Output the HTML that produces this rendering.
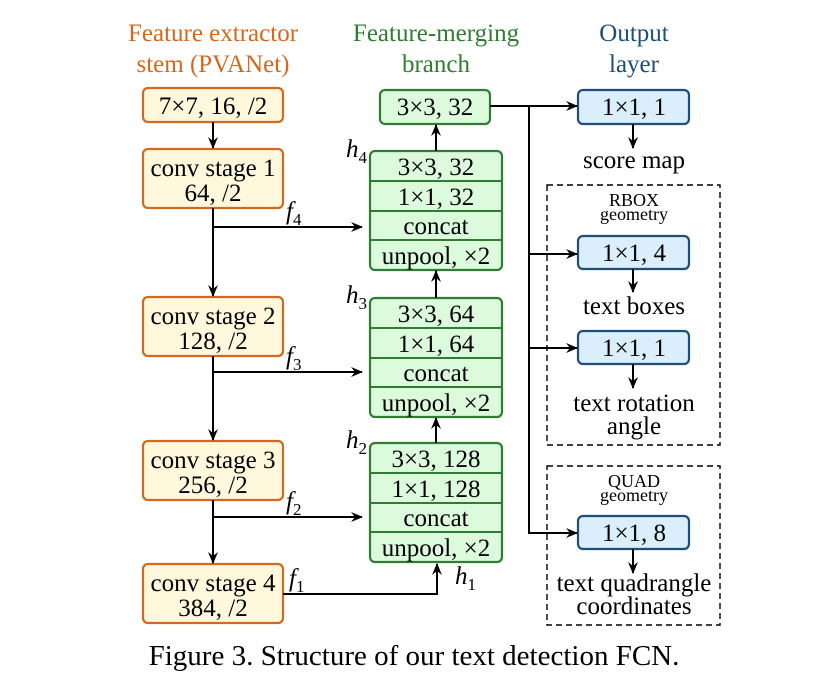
<!DOCTYPE html>
<html><head><meta charset="utf-8"><style>
html,body{margin:0;padding:0;background:#fff;}
svg{display:block;}
text{font-family:"Liberation Serif",serif;}
</style></head><body>
<svg width="832" height="680" viewBox="0 0 832 680" xmlns="http://www.w3.org/2000/svg">
<defs>
<marker id="a" viewBox="0 0 12 10" refX="11" refY="5" markerWidth="12" markerHeight="10" markerUnits="userSpaceOnUse" orient="auto">
<path d="M0,0 L12,5 L0,10 L4,5 Z" fill="#000"/></marker>
</defs>
<g font-size="25" text-anchor="middle">
<text x="213" y="41" fill="#d2691e">Feature extractor</text>
<text x="213" y="72" fill="#d2691e">stem (PVANet)</text>
<text x="436" y="41" fill="#2e7d32">Feature-merging</text>
<text x="436" y="72" fill="#2e7d32">branch</text>
<text x="634" y="41" fill="#1f4e79">Output</text>
<text x="634" y="72" fill="#1f4e79">layer</text>
</g>
<g fill="#fff8dc" stroke="#d2691e" stroke-width="2.2">
<rect x="143" y="88" width="140" height="34" rx="5"/>
<rect x="143" y="149" width="140" height="59" rx="5"/>
<rect x="143" y="297" width="140" height="59" rx="5"/>
<rect x="143" y="441" width="140" height="59" rx="5"/>
<rect x="143" y="564" width="140" height="59" rx="5"/>
</g>
<g font-size="25" text-anchor="middle">
<text x="213" y="114">7×7, 16, /2</text>
<text x="213" y="176">conv stage 1</text><text x="213" y="201">64, /2</text>
<text x="213" y="324">conv stage 2</text><text x="213" y="349">128, /2</text>
<text x="213" y="468">conv stage 3</text><text x="213" y="493">256, /2</text>
<text x="213" y="591">conv stage 4</text><text x="213" y="616">384, /2</text>
</g>
<g fill="#dcfadc" stroke="#2e7d32" stroke-width="2.2">
<rect x="380" y="90" width="110" height="34" rx="5"/>
<rect x="370" y="151" width="132" height="119" rx="5"/>
<rect x="370" y="298" width="132" height="119" rx="5"/>
<rect x="370" y="443" width="132" height="119" rx="5"/>
</g>
<g stroke="#2e7d32" stroke-width="2">
<line x1="370" y1="181" x2="502" y2="181"/><line x1="370" y1="211" x2="502" y2="211"/><line x1="370" y1="240" x2="502" y2="240"/>
<line x1="370" y1="328" x2="502" y2="328"/><line x1="370" y1="358" x2="502" y2="358"/><line x1="370" y1="387" x2="502" y2="387"/>
<line x1="370" y1="473" x2="502" y2="473"/><line x1="370" y1="503" x2="502" y2="503"/><line x1="370" y1="532" x2="502" y2="532"/>
</g>
<g font-size="25" text-anchor="middle">
<text x="435" y="115">3×3, 32</text>
<text x="436" y="175">3×3, 32</text><text x="436" y="205">1×1, 32</text><text x="436" y="234">concat</text><text x="436" y="264">unpool, ×2</text>
<text x="436" y="322">3×3, 64</text><text x="436" y="352">1×1, 64</text><text x="436" y="381">concat</text><text x="436" y="411">unpool, ×2</text>
<text x="436" y="467">3×3, 128</text><text x="436" y="497">1×1, 128</text><text x="436" y="526">concat</text><text x="436" y="556">unpool, ×2</text>
</g>
<g fill="none" stroke="#000" stroke-width="1.4" stroke-dasharray="6,4">
<rect x="547" y="185" width="173" height="260"/>
<rect x="547" y="466" width="173" height="159"/>
</g>
<g fill="#dbeefc" stroke="#1f4e79" stroke-width="2.2">
<rect x="578" y="90" width="111" height="34" rx="5"/>
<rect x="578" y="236" width="111" height="33" rx="5"/>
<rect x="578" y="331" width="111" height="33" rx="5"/>
<rect x="578" y="516" width="111" height="33" rx="5"/>
</g>
<g font-size="25" text-anchor="middle">
<text x="634" y="115">1×1, 1</text>
<text x="634" y="261">1×1, 4</text>
<text x="634" y="356">1×1, 1</text>
<text x="634" y="541">1×1, 8</text>
<text x="634" y="168">score map</text>
<text x="634" y="314">text boxes</text>
<text x="634" y="411">text rotation</text><text x="634" y="434">angle</text>
<text x="634" y="591">text quadrangle</text><text x="634" y="614">coordinates</text>
</g>
<g font-size="18" text-anchor="middle">
<text x="634" y="206">RBOX</text><text x="634" y="220">geometry</text>
<text x="634" y="487">QUAD</text><text x="634" y="501">geometry</text>
</g>
<g stroke="#000" stroke-width="2" fill="none">
<line x1="213" y1="122" x2="213" y2="148" marker-end="url(#a)"/>
<line x1="213" y1="208" x2="213" y2="296" marker-end="url(#a)"/>
<line x1="213" y1="356" x2="213" y2="440" marker-end="url(#a)"/>
<line x1="213" y1="500" x2="213" y2="563" marker-end="url(#a)"/>
<line x1="213" y1="227" x2="362" y2="227" marker-end="url(#a)"/>
<line x1="213" y1="372" x2="362" y2="372" marker-end="url(#a)"/>
<line x1="213" y1="517" x2="362" y2="517" marker-end="url(#a)"/>
<polyline points="283,594 437,594 437,564" marker-end="url(#a)"/>
<line x1="436" y1="443" x2="436" y2="418" marker-end="url(#a)"/>
<line x1="436" y1="298" x2="436" y2="271" marker-end="url(#a)"/>
<line x1="436" y1="151" x2="436" y2="125" marker-end="url(#a)"/>
<line x1="490" y1="106" x2="577" y2="106" marker-end="url(#a)"/>
<line x1="529" y1="106" x2="529" y2="534"/>
<line x1="529" y1="254" x2="577" y2="254" marker-end="url(#a)"/>
<line x1="529" y1="348" x2="577" y2="348" marker-end="url(#a)"/>
<polyline points="529,533 577,533" marker-end="url(#a)"/>
<line x1="633" y1="124" x2="633" y2="148" marker-end="url(#a)"/>
<line x1="633" y1="269" x2="633" y2="292" marker-end="url(#a)"/>
<line x1="633" y1="364" x2="633" y2="388" marker-end="url(#a)"/>
<line x1="633" y1="549" x2="633" y2="573" marker-end="url(#a)"/>
</g>
<g font-size="25" font-style="italic">
<text x="286" y="219">f<tspan font-size="17" font-style="normal" dy="6">4</tspan></text>
<text x="286" y="364">f<tspan font-size="17" font-style="normal" dy="6">3</tspan></text>
<text x="286" y="509">f<tspan font-size="17" font-style="normal" dy="6">2</tspan></text>
<text x="289" y="586">f<tspan font-size="17" font-style="normal" dy="6">1</tspan></text>
<text x="346" y="157">h<tspan font-size="17" font-style="normal" dy="6">4</tspan></text>
<text x="346" y="303">h<tspan font-size="17" font-style="normal" dy="6">3</tspan></text>
<text x="346" y="448">h<tspan font-size="17" font-style="normal" dy="6">2</tspan></text>
<text x="455" y="584">h<tspan font-size="17" font-style="normal" dy="6">1</tspan></text>
</g>
<text x="414" y="665" font-size="29" text-anchor="middle">Figure 3. Structure of our text detection FCN.</text>
</svg>
</body></html>
